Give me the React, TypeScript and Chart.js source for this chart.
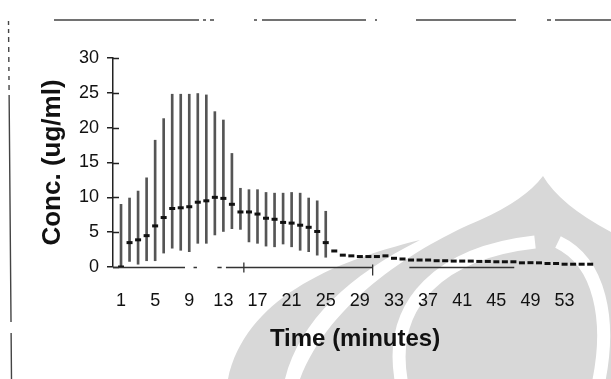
import React, { useEffect, useRef } from "react";
import { Chart, registerables } from "chart.js";

Chart.register(...registerables);

// ---------- data ----------
const minutes = [
  1, 2, 3, 4, 5, 6, 7, 8, 9, 10, 11, 12, 13, 14, 15, 16, 17, 18, 19, 20,
  21, 22, 23, 24, 25, 26, 27, 28, 29, 30, 31, 32, 33, 34, 35, 36, 37, 38, 39, 40,
  41, 42, 43, 44, 45, 46, 47, 48, 49, 50, 51, 52, 53, 54, 55, 56,
];
const meanConc = [
  0, 3.5, 3.9, 4.5, 5.9, 7.1, 8.4, 8.5, 8.65, 9.3,
  9.5, 10.0, 9.85, 9.0, 7.9, 7.9, 7.6, 7.0, 6.85, 6.4,
  6.3, 6.0, 5.7, 5.1, 3.5, 2.3, 1.7, 1.6, 1.5, 1.5,
  1.5, 1.6, 1.25, 1.15, 1.0, 1.0, 1.0, 0.9, 0.9, 0.85,
  0.85, 0.85, 0.8, 0.8, 0.75, 0.75, 0.75, 0.6, 0.62, 0.6,
  0.5, 0.5, 0.4, 0.4, 0.4, 0.4,
];
// ranges (error bars) visible for the first 25 minutes
const lowConc = [
  0, 0.8, 0.4, 0.9, 0.9, 2.0, 2.7, 2.4, 2.2, 3.4,
  3.4, 4.6, 5.1, 5.5, 5.4, 3.6, 3.4, 3.0, 2.9, 3.3,
  2.9, 2.4, 2.2, 1.7, 1.4,
];
const highConc = [
  9.0, 9.9, 10.9, 12.8, 18.2, 21.3, 24.8, 24.8, 24.8, 24.9,
  24.7, 22.3, 21.1, 16.3, 11.3, 11.1, 11.1, 10.7, 10.6, 10.6,
  10.7, 10.6, 9.9, 9.5, 8.0,
];
const xTickValues = [1, 5, 9, 13, 17, 21, 25, 29, 33, 37, 41, 45, 49, 53];
const yTickValues = [0, 5, 10, 15, 20, 25, 30];

const FONT = '"Liberation Sans", Arial, Helvetica, sans-serif';

// ---------- decorative plugins ----------
const watermarkPlugin = {
  id: "watermark",
  beforeDraw(chart: any) {
    const ctx = chart.ctx as CanvasRenderingContext2D;
    ctx.save();
    ctx.fillStyle = "#d8d8d8";
    // main dome
    ctx.beginPath();
    ctx.moveTo(300, 379);
    ctx.bezierCurveTo(330, 300, 420, 245, 480, 220);
    ctx.quadraticCurveTo(525, 200, 543, 176);
    ctx.quadraticCurveTo(560, 205, 611, 232);
    ctx.lineTo(611, 379);
    ctx.closePath();
    ctx.fill();
    // left petal
    ctx.beginPath();
    ctx.moveTo(228, 379);
    ctx.bezierCurveTo(245, 300, 330, 262, 420, 240);
    ctx.bezierCurveTo(350, 275, 300, 320, 285, 379);
    ctx.closePath();
    ctx.fill();
    // inner white strokes
    ctx.strokeStyle = "#ffffff";
    ctx.lineWidth = 13;
    ctx.beginPath();
    ctx.moveTo(402, 385);
    ctx.bezierCurveTo(385, 300, 445, 252, 535, 242);
    ctx.stroke();
    ctx.beginPath();
    ctx.moveTo(598, 385);
    ctx.bezierCurveTo(612, 320, 600, 262, 558, 242);
    ctx.stroke();
    ctx.restore();
  },
};

const framePlugin = {
  id: "frame",
  afterDraw(chart: any) {
    const ctx = chart.ctx as CanvasRenderingContext2D;
    ctx.save();
    ctx.strokeStyle = "#444";
    ctx.lineWidth = 1.4;
    const top: number[][] = [
      [54, 199], [203, 206], [210, 214], [254, 257], [262, 366],
      [375, 377], [416, 516], [547, 551], [555, 611],
    ];
    ctx.beginPath();
    top.forEach(([a, b]) => {
      ctx.moveTo(a, 20);
      ctx.lineTo(b, 20);
    });
    ctx.stroke();
    // left border (slightly tilted, broken)
    const xAt = (y: number) => 8.5 + ((y - 21) / (379 - 21)) * 3;
    const left: number[][] = [
      [21, 25], [29, 33], [37, 42], [47, 52], [57, 62], [67, 71], [76, 80], [85, 90],
      [95, 322], [333, 379],
    ];
    ctx.beginPath();
    left.forEach(([a, b]) => {
      ctx.moveTo(xAt(a), a);
      ctx.lineTo(xAt(b), b);
    });
    ctx.stroke();
    ctx.restore();
  },
};

const axisPlugin = {
  id: "axisMarks",
  afterDatasetsDraw(chart: any) {
    const ctx = chart.ctx as CanvasRenderingContext2D;
    const xs = chart.scales.x;
    const ys = chart.scales.y;
    ctx.save();
    ctx.strokeStyle = "#222";
    ctx.lineWidth = 1.5;
    // inner half of the crossing y ticks
    const ax = chart.chartArea.left;
    ctx.beginPath();
    yTickValues.forEach((v) => {
      const y = Math.round(ys.getPixelForValue(v)) + 0.5;
      ctx.moveTo(ax, y);
      ctx.lineTo(ax + 6, y);
    });
    ctx.stroke();
    // broken x axis line (scan)
    const y0 = ys.getPixelForValue(0) + 0.5;
    ctx.lineWidth = 1.3;
    ctx.strokeStyle = "#333";
    ctx.beginPath();
    [[0.06, 8.5], [13.3, 30.5], [34.8, 47.1]].forEach(([a, b]) => {
      ctx.moveTo(xs.getPixelForValue(a), y0);
      ctx.lineTo(xs.getPixelForValue(b), y0);
    });
    ctx.moveTo(xs.getPixelForValue(9.5), y0);
    ctx.lineTo(xs.getPixelForValue(9.9), y0);
    ctx.moveTo(xs.getPixelForValue(12.3), y0);
    ctx.lineTo(xs.getPixelForValue(12.8), y0);
    ctx.moveTo(xs.getPixelForValue(15.4), y0 - 5);
    ctx.lineTo(xs.getPixelForValue(15.4), y0 + 5);
    ctx.moveTo(xs.getPixelForValue(30.5), y0 - 3);
    ctx.lineTo(xs.getPixelForValue(30.5), y0 + 8);
    ctx.stroke();
    ctx.restore();
  },
};

export default function App() {
  const ref = useRef<HTMLCanvasElement | null>(null);

  useEffect(() => {
    if (!ref.current) return;
    const meanPoints = minutes.map((m, i) => ({ x: m, y: meanConc[i] }));
    const rangeBars = lowConc.map((lo, i) => ({ x: minutes[i], y: [lo, highConc[i]] }));

    const chart = new Chart(ref.current, {
      type: "line",
      data: {
        datasets: [
          {
            type: "line",
            label: "Mean",
            data: meanPoints,
            showLine: false,
            pointStyle: "line",
            pointRadius: 3,
            pointBorderWidth: 3,
            pointBorderColor: "#111",
            pointBackgroundColor: "#111",
            order: 0,
          } as any,
          {
            type: "bar",
            label: "Range",
            data: rangeBars,
            barThickness: 2,
            backgroundColor: "#555",
            borderWidth: 0,
            order: 1,
          } as any,
        ],
      },
      options: {
        animation: false,
        responsive: true,
        maintainAspectRatio: false,
        layout: { padding: { top: 58, right: 14, bottom: 0, left: 0 } },
        plugins: {
          legend: { display: false },
          tooltip: { enabled: false },
        },
        scales: {
          x: {
            type: "linear",
            min: 0.06,
            max: 56.8,
            offset: false,
            grid: { display: false, offset: false },
            border: { display: false },
            afterBuildTicks: (scale: any) => {
              scale.ticks = xTickValues.map((value) => ({ value }));
            },
            afterFit: (scale: any) => {
              scale.height = 112;
            },
            ticks: {
              autoSkip: false,
              maxRotation: 0,
              minRotation: 0,
              padding: 15,
              color: "#111",
              font: { family: FONT, size: 18 },
              callback: (v: any) => String(v),
            },
            title: {
              display: true,
              text: "Time (minutes)",
              color: "#111",
              font: { family: FONT, size: 24, weight: "bold" },
              padding: { top: 0, bottom: 25 },
            },
          },
          y: {
            type: "linear",
            min: 0,
            max: 30,
            afterBuildTicks: (scale: any) => {
              scale.ticks = yTickValues.map((value) => ({ value }));
            },
            afterFit: (scale: any) => {
              scale.width = 113;
            },
            grid: {
              display: true,
              drawOnChartArea: false,
              drawTicks: true,
              tickLength: 6,
              color: "#222",
              lineWidth: 1.5,
            },
            border: { display: true, color: "#222", width: 1.5 },
            ticks: {
              padding: 8,
              color: "#111",
              font: { family: FONT, size: 18 },
            },
            title: {
              display: true,
              text: "Conc. (ug/ml)",
              color: "#111",
              font: { family: FONT, size: 26, weight: "bold" },
              padding: { top: 37, bottom: 0 },
            },
          },
        },
      } as any,
      plugins: [watermarkPlugin, framePlugin, axisPlugin],
    });
    return () => chart.destroy();
  }, []);

  return (
    <div
      style={{
        position: "fixed",
        left: 0,
        top: 0,
        width: 611,
        height: 379,
        background: "#fff",
      }}
    >
      <canvas ref={ref} />
    </div>
  );
}
